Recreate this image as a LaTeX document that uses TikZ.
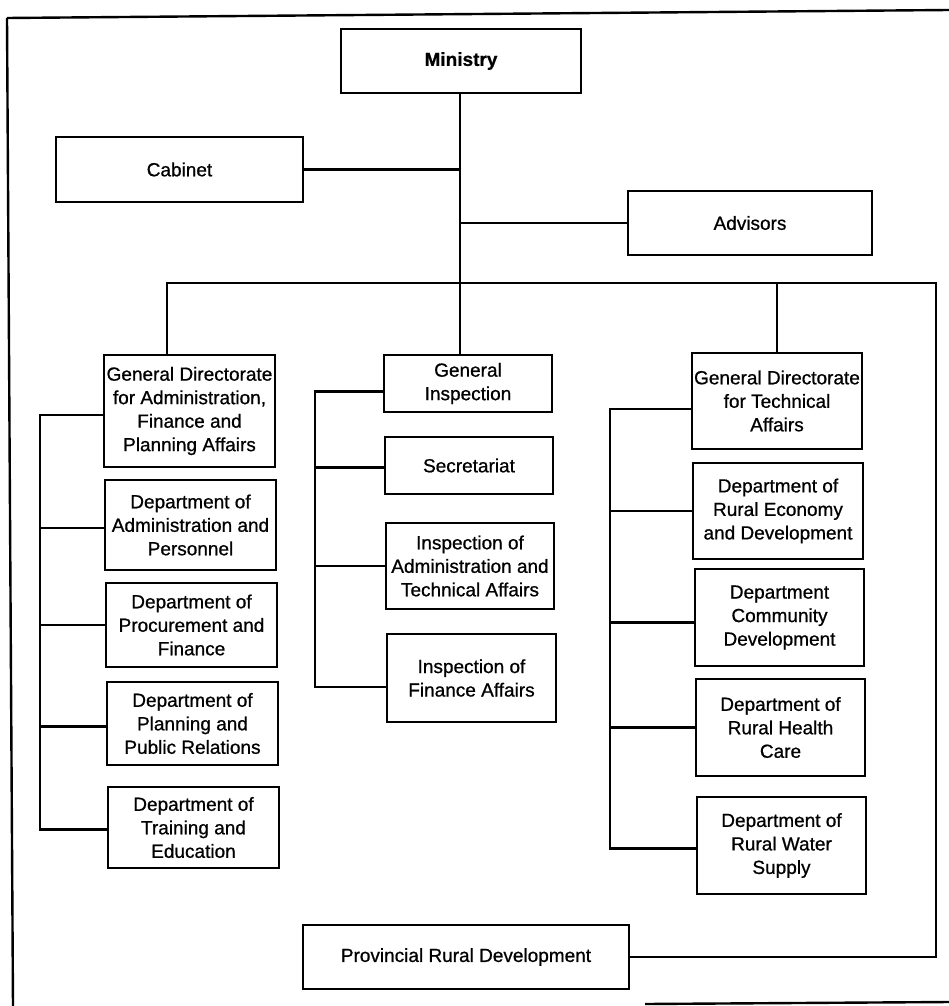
\documentclass[tikz,border=0pt]{standalone}
\usepackage{fontspec}
\setmainfont{Liberation Sans}[FakeBold=0.8]
\begin{document}
\begin{tikzpicture}[x=1pt,y=-1pt,
  box/.style={draw, line width=2.6pt, align=center, inner sep=0pt,
    font=\fontsize{19}{23.5}\selectfont},
  link/.style={line width=2.4pt},
  frame/.style={line width=2.4pt}]
\useasboundingbox (0,0) rectangle (949,1006);
% frame (partly visible)
\draw[frame] (7,18) -- (949,10);
\draw[frame] (7,18) -- (13,1006);
\draw[frame] (645,1004) -- (949,1002);
% top level
\node[box, minimum width=240pt, minimum height=64pt, font=\fontsize{19}{23.5}\selectfont\bfseries] (ministry) at (461,61) {Ministry};
\node[box, minimum width=247pt, minimum height=65pt] (cabinet) at (179.5,169.5) {Cabinet};
\node[box, minimum width=244pt, minimum height=64pt] (advisors) at (750,223) {Advisors};
% left column
\node[box, minimum width=171pt, minimum height=112pt] (gda) at (189.5,411) {General Directorate\\for Administration,\\Finance and\\Planning Affairs};
\node[box, minimum width=171pt, minimum height=90pt] (dap) at (190.5,525) {Department of\\Administration and\\Personnel};
\node[box, minimum width=171pt, minimum height=84pt] (dpf) at (191.5,625) {Department of\\Procurement and\\Finance};
\node[box, minimum width=171pt, minimum height=83pt] (dpp) at (192.5,723.5) {Department of\\Planning and\\Public Relations};
\node[box, minimum width=171pt, minimum height=81pt] (dte) at (193.5,827.5) {Department of\\Training and\\Education};
% middle column
\node[box, minimum width=168pt, minimum height=57pt] (gi) at (468,383.5) {General\\Inspection};
\node[box, minimum width=168pt, minimum height=57pt] (sec) at (469,465.5) {Secretariat};
\node[box, minimum width=168pt, minimum height=86pt] (iat) at (470,566) {Inspection of\\Administration and\\Technical Affairs};
\node[box, minimum width=169pt, minimum height=88pt] (ifa) at (471.5,678) {Inspection of\\Finance Affairs};
% right column
\node[box, minimum width=170pt, minimum height=96pt] (gdt) at (777,401) {General Directorate\\for Technical\\Affairs};
\node[box, minimum width=170pt, minimum height=96pt] (dre) at (778,511) {Department of\\Rural Economy\\and Development};
\node[box, minimum width=169pt, minimum height=97pt] (dcd) at (779.5,617.5) {Department\\Community\\Development};
\node[box, minimum width=169pt, minimum height=97pt] (drh) at (780.5,727.5) {Department of\\Rural Health\\Care};
\node[box, minimum width=169pt, minimum height=97pt] (drw) at (781.5,845.5) {Department of\\Rural Water\\Supply};
% bottom
\node[box, minimum width=326pt, minimum height=64pt] (prd) at (466,957) {Provincial Rural Development};
% helper coordinates
\coordinate (trunk) at (460,0);
\coordinate (barL) at (167,283);
\coordinate (barR) at (936,283);
\coordinate (spL) at (40,0);
\coordinate (spC) at (315,0);
\coordinate (spR) at (610,0);
% trunk and side links
\draw[link] (ministry.south -| trunk) -- (gi.north -| trunk);
\draw[link] (cabinet.east) -- (cabinet.east -| trunk);
\draw[link] (advisors.west) -- (advisors.west -| trunk);
% main bar
\draw[link] (barL |- gda.north) -- (barL) -- (barR) |- (prd.east);
\draw[link] (gdt.north) -- (gdt.north |- barL);
% left spine
\draw[link] ([yshift=-4pt]gda.west) -- ([yshift=-4pt]gda.west -| spL) |- ([yshift=-2pt]dte.west);
\draw[link] ([yshift=-3pt]dap.west) -- ([yshift=-3pt]dap.west -| spL);
\draw[link] (dpf.west) -- (dpf.west -| spL);
\draw[link] ([yshift=-3pt]dpp.west) -- ([yshift=-3pt]dpp.west -| spL);
% middle spine
\draw[link] ([yshift=-8pt]gi.west) -- ([yshift=-8pt]gi.west -| spC) |- ([yshift=-9pt]ifa.west);
\draw[link] ([yshift=-2pt]sec.west) -- ([yshift=-2pt]sec.west -| spC);
\draw[link] (iat.west) -- (iat.west -| spC);
% right spine
\draw[link] ([yshift=-8pt]gdt.west) -- ([yshift=-8pt]gdt.west -| spR) |- ([yshift=-3pt]drw.west);
\draw[link] (dre.west) -- (dre.west -| spR);
\draw[link] ([yshift=-5pt]dcd.west) -- ([yshift=-5pt]dcd.west -| spR);
\draw[link] (drh.west) -- (drh.west -| spR);
\end{tikzpicture}
\end{document}
